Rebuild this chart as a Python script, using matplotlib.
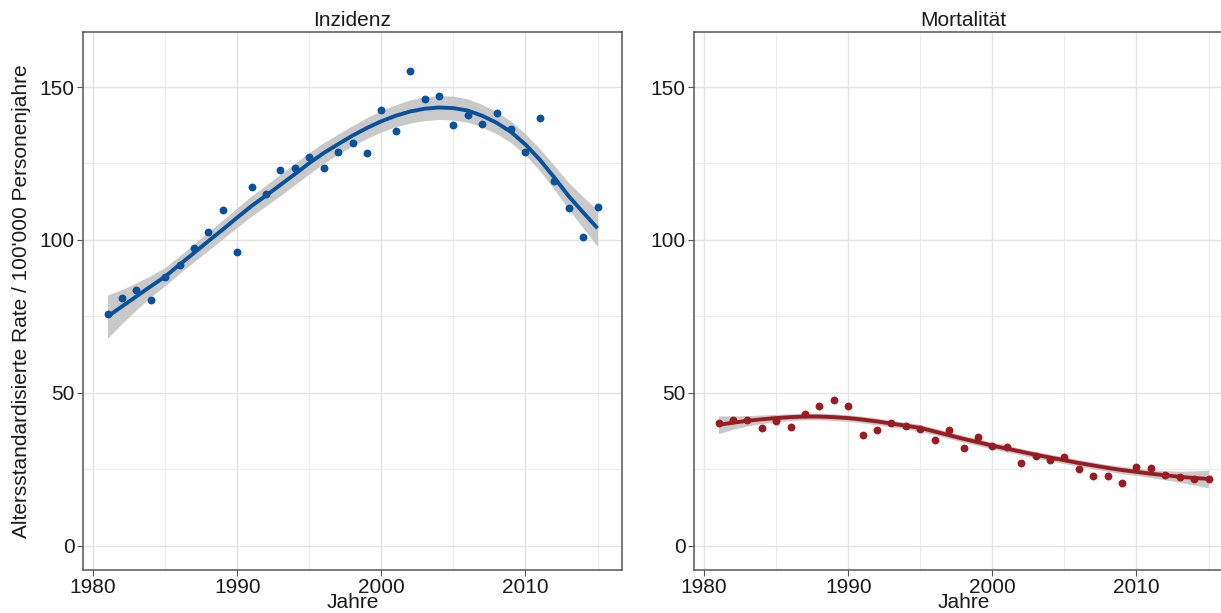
import numpy as np
import matplotlib
matplotlib.use("Agg")
import matplotlib.pyplot as plt

plt.rcParams['font.family'] = ['Liberation Sans Narrow', 'Liberation Sans', 'DejaVu Sans']

jahre = list(range(1981, 2016))

# observed rates per 100'000 person years
inzidenz = [75.8, 81.0, 83.7, 80.4, 87.9, 91.8, 97.4, 102.6, 109.8, 96.1,
            117.3, 115.0, 122.9, 123.5, 127.1, 123.5, 128.8, 131.7, 128.4, 142.5,
            135.6, 155.2, 146.1, 147.1, 137.6, 140.8, 137.9, 141.5, 136.3, 128.8,
            139.9, 119.3, 110.5, 101.0, 110.8]
mortalitaet = [40.0, 41.1, 41.2, 38.3, 40.9, 38.7, 43.1, 45.5, 47.6, 45.6,
               36.0, 37.9, 40.1, 39.2, 38.1, 34.4, 37.8, 32.0, 35.4, 32.5,
               32.3, 27.0, 29.4, 27.9, 28.9, 25.2, 22.7, 22.7, 20.3, 25.8,
               25.4, 23.2, 22.5, 21.9, 21.8]

# smoother and half width of its confidence band
fit_inz = [74.9, 78.2, 81.5, 84.8, 88.0, 91.9, 95.7, 99.6, 103.4, 107.3,
           111.1, 114.5, 118.0, 121.5, 125.1, 128.4, 131.3, 134.1, 136.6, 138.8,
           140.6, 142.0, 142.9, 143.3, 143.1, 142.3, 140.6, 138.3, 135.3, 131.2,
           126.2, 120.4, 114.3, 109.0, 103.8]
ci_inz = [7.1, 5.6, 4.4, 3.5, 3.0, 2.9, 2.9, 3.0, 3.1, 3.2,
          3.3, 3.4, 3.5, 3.5, 3.5, 3.4, 3.3, 3.3, 3.4, 3.5,
          3.6, 3.8, 3.9, 3.9, 3.9, 3.8, 3.7, 3.6, 3.5, 3.5,
          3.6, 3.9, 4.4, 5.1, 6.0]
fit_mort = [39.5, 40.2, 40.8, 41.3, 41.7, 42.0, 42.2, 42.2, 42.0, 41.7,
            41.2, 40.6, 39.9, 39.2, 38.5, 37.3, 36.1, 34.9, 33.8, 32.7,
            31.7, 30.7, 29.7, 28.8, 27.9, 27.0, 26.2, 25.4, 24.7, 24.1,
            23.5, 23.0, 22.5, 22.1, 21.8]
ci_mort = [2.9, 2.2, 1.7, 1.4, 1.2, 1.1, 1.1, 1.1, 1.1, 1.1,
           1.1, 1.1, 1.1, 1.1, 1.1, 1.1, 1.1, 1.1, 1.1, 1.1,
           1.1, 1.1, 1.1, 1.1, 1.1, 1.1, 1.1, 1.1, 1.2, 1.2,
           1.3, 1.5, 1.8, 2.3, 2.9]

fig = plt.figure(figsize=(12.21, 6.13), dpi=100)
ax1 = fig.add_axes([83 / 1221, 1 - 570 / 613, 539 / 1221, 538 / 613])
ax2 = fig.add_axes([694 / 1221, 1 - 570 / 613, 539 / 1221, 538 / 613])

panels = [(ax1, 'Inzidenz', inzidenz, fit_inz, ci_inz, '#08519c'),
          (ax2, 'Mortalität', mortalitaet, fit_mort, ci_mort, '#9b1c20')]

for ax, titel, werte, fit, ci, farbe in panels:
    fit = np.array(fit)
    ci = np.array(ci)
    ax.fill_between(jahre, fit - ci, fit + ci, color='#c9c9c9', lw=0, zorder=2)
    ax.plot(jahre, fit, color=farbe, lw=2.8, zorder=3, solid_capstyle='butt')
    ax.scatter(jahre, werte, s=32, color=farbe, zorder=4, lw=0)
    ax.set_xlim(1979.3, 2016.7)
    ax.set_ylim(-8, 168)
    ax.set_xticks([1980, 1990, 2000, 2010])
    ax.set_xticks([1985, 1995, 2005, 2015], minor=True)
    ax.set_yticks([0, 50, 100, 150])
    ax.set_yticks([25, 75, 125], minor=True)
    ax.grid(which='major', color='#e3e3e3', lw=1.0, zorder=0)
    ax.grid(which='minor', color='#ececec', lw=0.8, zorder=0)
    ax.set_axisbelow(True)
    for s in ax.spines.values():
        s.set_color('#555555')
        s.set_linewidth(1.1)
    ax.tick_params(which='major', length=4, color='#555555', labelsize=15,
                   labelcolor='#1a1a1a', pad=2)
    ax.tick_params(which='minor', length=0)
    ax.set_title(titel, fontsize=15, color='#1a1a1a', pad=4)
    ax.set_xlabel('Jahre', fontsize=15, color='#1a1a1a', labelpad=-3)

# right panel runs past the image edge in the original
ax2.spines['right'].set_visible(False)

ax1.set_ylabel("Altersstandardisierte Rate / 100'000 Personenjahre", fontsize=15,
               color='#1a1a1a', labelpad=6)

fig.savefig('out.png', dpi=100)
